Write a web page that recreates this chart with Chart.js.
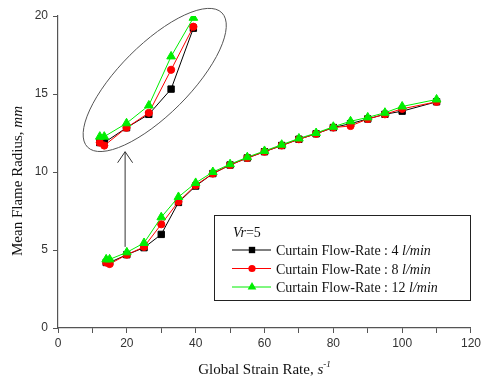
<!DOCTYPE html>
<html>
<head>
<meta charset="utf-8">
<script src="https://cdn.jsdelivr.net/npm/chart.js@4.4.1/dist/chart.umd.min.js"></script>
<style>
  html, body { margin: 0; padding: 0; background: #fff; }
  #wrap { width: 484px; height: 383px; }
</style>
</head>
<body>
<div id="wrap"><canvas id="flameChart" width="484" height="383"></canvas></div>
<script>
// Global strain rate (s^-1)
const strainRates = [14, 15, 20, 25, 30, 35, 40, 45, 50, 55, 60, 65, 70, 75, 80, 85, 90, 95, 100, 110];

// Mean flame radius (mm) per curtain flow-rate
const radius4 = [4.2, 4.2, 4.7, 5.15, 6.0, 8.05, 9.1, 9.9, 10.45, 10.9, 11.3, 11.7, 12.1, 12.45, 12.85, 13.1, 13.4, 13.7, 13.9, 14.5];
const radius8 = [4.2, 4.1, 4.7, 5.2, 6.65, 8.1, 9.15, 9.9, 10.45, 10.9, 11.3, 11.7, 12.1, 12.45, 12.85, 12.95, 13.4, 13.7, 14.05, 14.5];
const radius12 = [4.4, 4.4, 4.85, 5.45, 7.1, 8.4, 9.3, 10.0, 10.5, 10.95, 11.35, 11.75, 12.15, 12.5, 12.9, 13.25, 13.5, 13.8, 14.2, 14.65];

// the magnified inset repeats the first points (14 - 35 s^-1)
const insetCount = 6;

const xTicks = [0, 20, 40, 60, 80, 100, 120];
const yTicks = [0, 5, 10, 15, 20];

const seriesNames = ['Curtain Flow-Rate : 4 ', 'Curtain Flow-Rate : 8 ', 'Curtain Flow-Rate : 12 '];
const seriesUnit = 'l/min';

const serif = "'Liberation Serif', 'Times New Roman', serif";
const sans = "'Liberation Sans', Arial, sans-serif";

const styles = [
    { color: '#000000', pointStyle: 'rect', radius: 4.5 },
    { color: '#ff0000', pointStyle: 'circle', radius: 3.6 },
    { color: '#00ee00', pointStyle: 'triangle', radius: 5 }
];

function toPoints(values, count) {
    return values.slice(0, count).map((v, i) => ({ x: strainRates[i], y: v }));
}

function makeDataset(values, idx, inset) {
    const s = styles[idx];
    return {
        label: seriesNames[idx] + seriesUnit,
        data: toPoints(values, inset ? insetCount : values.length),
        xAxisID: inset ? 'xi' : 'x',
        yAxisID: inset ? 'yi' : 'y',
        borderColor: s.color,
        backgroundColor: s.color,
        borderWidth: 1,
        pointStyle: s.pointStyle,
        pointRadius: s.radius,
        pointBorderWidth: 1,
        pointBackgroundColor: s.color,
        pointBorderColor: s.color,
        tension: 0,
        order: 3 - idx
    };
}

// draw a marker like the chart's points, for the legend
function drawMarker(ctx, style, x, y) {
    ctx.fillStyle = style.color;
    ctx.beginPath();
    if (style.pointStyle === 'rect') {
        const h = style.radius * Math.SQRT1_2;
        ctx.rect(x - h, y - h, 2 * h, 2 * h);
    } else if (style.pointStyle === 'circle') {
        ctx.arc(x, y, style.radius, 0, Math.PI * 2);
    } else {
        const r = style.radius;
        ctx.moveTo(x, y - r);
        ctx.lineTo(x + r * Math.sin(2 * Math.PI / 3), y - r * Math.cos(2 * Math.PI / 3));
        ctx.lineTo(x + r * Math.sin(4 * Math.PI / 3), y - r * Math.cos(4 * Math.PI / 3));
        ctx.closePath();
    }
    ctx.fill();
}

// write pieces of text with different fonts one after another
function drawRuns(ctx, runs, x, y, align) {
    let total = 0;
    runs.forEach(r => { ctx.font = r.font; total += ctx.measureText(r.text).width; });
    let cx = align === 'center' ? x - total / 2 : x;
    runs.forEach(r => {
        ctx.font = r.font;
        ctx.fillText(r.text, cx, y - (r.rise || 0));
        cx += ctx.measureText(r.text).width;
    });
}

const decorations = {
    id: 'decorations',
    afterDraw(chart) {
        const { ctx, chartArea, scales: { x, y } } = chart;
        ctx.save();

        // ellipse round the magnified view
        ctx.strokeStyle = '#555';
        ctx.lineWidth = 1;
        ctx.beginPath();
        ctx.ellipse(x.getPixelForValue(28.1), y.getPixelForValue(15.9), 95, 35, -Math.PI / 4, 0, Math.PI * 2);
        ctx.stroke();

        // arrow from the low strain rate points up to the inset
        const ax = x.getPixelForValue(19.5);
        const ay0 = y.getPixelForValue(5.2);
        const ay1 = y.getPixelForValue(11.3);
        ctx.strokeStyle = '#333';
        ctx.beginPath();
        ctx.moveTo(ax, ay0);
        ctx.lineTo(ax, ay1);
        ctx.moveTo(ax - 7.5, ay1 + 11);
        ctx.lineTo(ax, ay1);
        ctx.lineTo(ax + 7.5, ay1 + 11);
        ctx.stroke();

        // legend box
        const bx = 214, by = 215, bw = 256, bh = 85;
        ctx.fillStyle = '#fff';
        ctx.fillRect(bx, by, bw, bh);
        ctx.strokeStyle = '#222';
        ctx.strokeRect(bx + 0.5, by + 0.5, bw, bh);
        ctx.fillStyle = '#111';
        ctx.textBaseline = 'alphabetic';
        ctx.textAlign = 'left';
        drawRuns(ctx, [{ text: 'Vr', font: 'italic 14px ' + serif }, { text: '=5', font: '14px ' + serif }], 233, 237);
        styles.forEach((s, i) => {
            const ly = 250 + i * 18.5;
            ctx.strokeStyle = s.color;
            ctx.lineWidth = 1;
            ctx.beginPath();
            ctx.moveTo(232, ly);
            ctx.lineTo(271, ly);
            ctx.stroke();
            drawMarker(ctx, s, 252, ly);
            ctx.fillStyle = '#111';
            drawRuns(ctx, [
                { text: seriesNames[i], font: '14px ' + serif },
                { text: seriesUnit, font: 'italic 14px ' + serif }
            ], 276, ly + 5);
        });

        // axis titles
        ctx.fillStyle = '#111';
        drawRuns(ctx, [
            { text: 'Global Strain Rate, ', font: '15px ' + serif },
            { text: 's', font: 'italic 15px ' + serif },
            { text: '-1', font: 'italic 9px ' + serif, rise: 7 }
        ], (chartArea.left + chartArea.right) / 2, 374, 'center');

        ctx.translate(18, 181);
        ctx.rotate(-Math.PI / 2);
        ctx.textBaseline = 'middle';
        drawRuns(ctx, [
            { text: 'Mean Flame Radius, ', font: '15px ' + serif },
            { text: 'mm', font: 'italic 15px ' + serif }
        ], 0, 0, 'center');

        ctx.restore();
    }
};

const axisStyle = {
    grid: { drawOnChartArea: false, drawTicks: true, tickLength: 5, color: '#555', lineWidth: 1 },
    border: { display: true, color: '#555', width: 1.2 }
};

const ctx = document.getElementById('flameChart').getContext('2d');

const flameChart = new Chart(ctx, {
    type: 'line',
    data: {
        datasets: [
            makeDataset(radius4, 0, false),
            makeDataset(radius8, 1, false),
            makeDataset(radius12, 2, false),
            makeDataset(radius4, 0, true),
            makeDataset(radius8, 1, true),
            makeDataset(radius12, 2, true)
        ]
    },
    options: {
        responsive: false,
        animation: false,
        layout: { padding: { left: 0, right: 11, top: 16, bottom: 0 } },
        plugins: {
            legend: { display: false },
            tooltip: { enabled: false }
        },
        scales: {
            x: {
                type: 'linear',
                min: 0,
                max: 120,
                ...axisStyle,
                ticks: {
                    stepSize: 10,
                    autoSkip: false,
                    maxRotation: 0,
                    padding: 3,
                    color: '#333',
                    font: { size: 12, family: sans },
                    callback: v => xTicks.includes(v) ? String(v) : ''
                },
                afterFit: s => { s.height = 55; }
            },
            y: {
                type: 'linear',
                min: 0,
                max: 20,
                ...axisStyle,
                ticks: {
                    stepSize: 5,
                    padding: 5,
                    color: '#333',
                    font: { size: 12, family: sans },
                    callback: v => yTicks.includes(v) ? String(v) : ''
                },
                afterFit: s => { s.width = 58; }
            },
            // hidden scales that place the magnified copy of the first points
            xi: { type: 'linear', display: false, min: 4.62, max: 97.3 },
            yi: { type: 'linear', display: false, min: -2.04, max: 8.46 }
        }
    },
    plugins: [decorations]
});
</script>
</body>
</html>
